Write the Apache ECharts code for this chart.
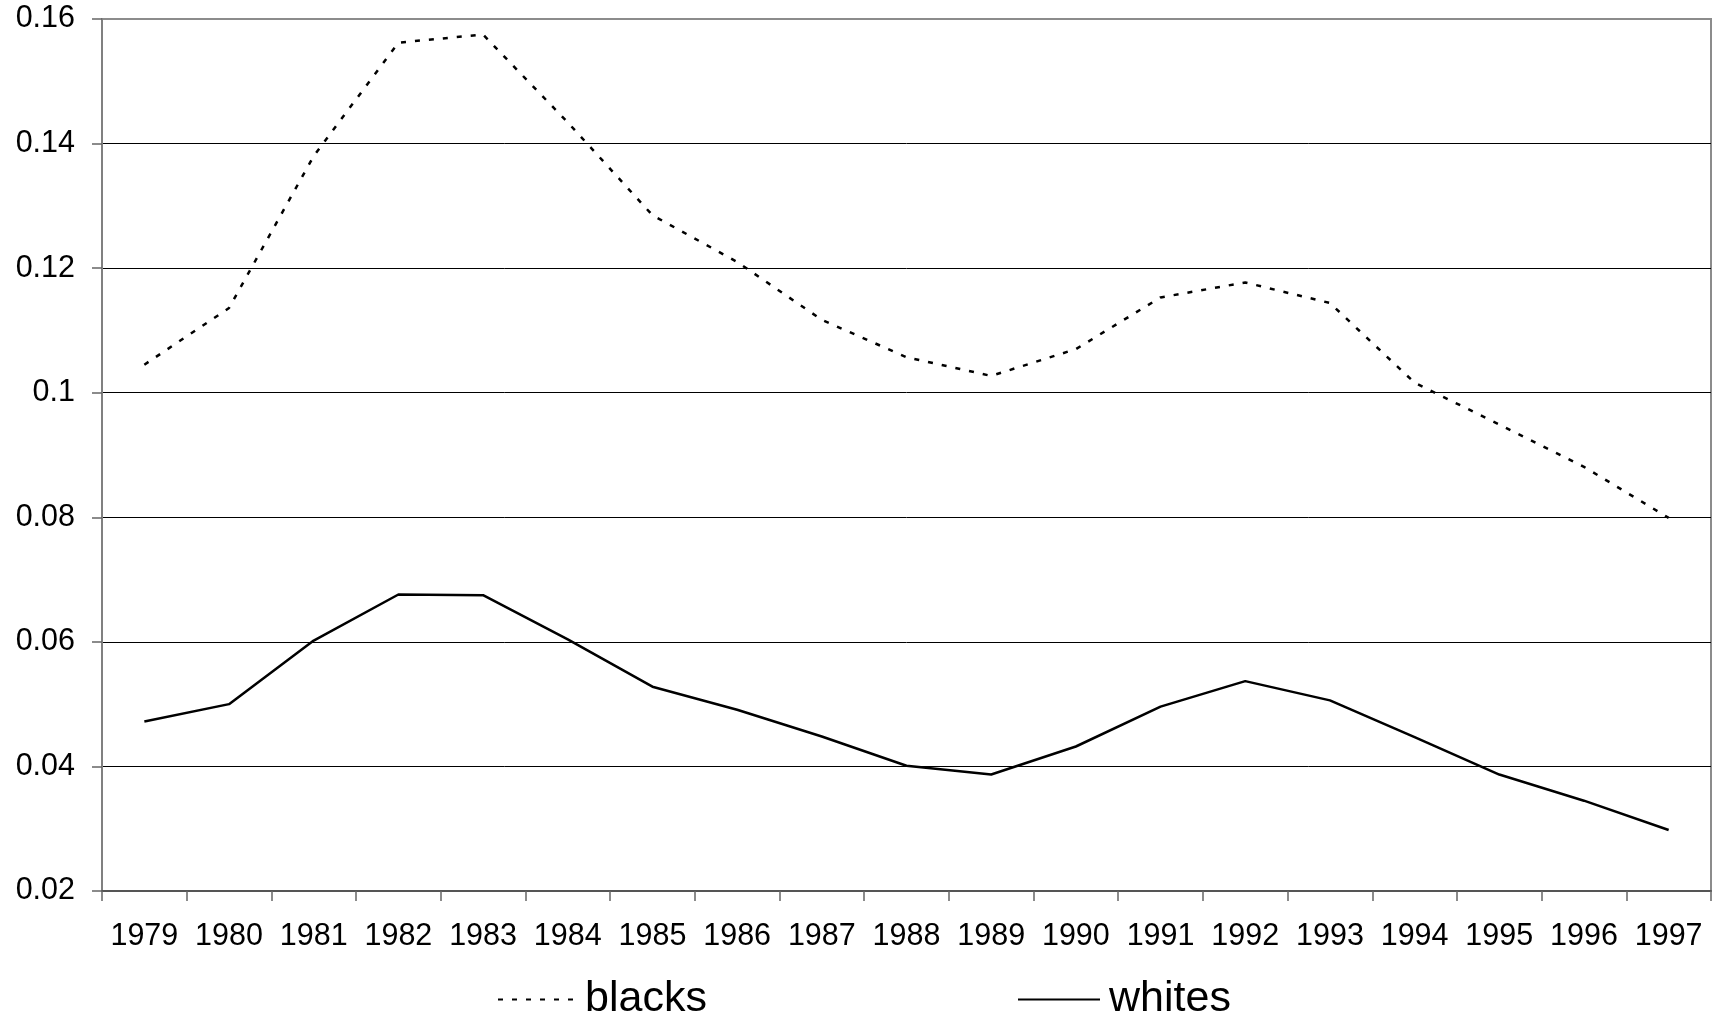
<!DOCTYPE html>
<html>
<head>
<meta charset="utf-8">
<script src="https://cdn.jsdelivr.net/npm/echarts@6/dist/echarts.min.js"></script>
<style>
html,body{margin:0;padding:0;background:#fff;}
#chart{width:1725px;height:1021px;}
</style>
</head>
<body>
<div id="chart"></div>
<script>
var years = ['1979','1980','1981','1982','1983','1984','1985','1986','1987','1988','1989','1990','1991','1992','1993','1994','1995','1996','1997'];
var blacks = [0.1045, 0.1136, 0.1380, 0.1562, 0.1575, 0.1434, 0.1285, 0.1210, 0.1117, 0.1057, 0.1027, 0.1070, 0.1153, 0.1177, 0.1144, 0.1016, 0.0949, 0.0881, 0.0799];
var whites = [0.0472, 0.0500, 0.0602, 0.0676, 0.0675, 0.0604, 0.0528, 0.0491, 0.0448, 0.0401, 0.0387, 0.0432, 0.0496, 0.0537, 0.0506, 0.0447, 0.0387, 0.0345, 0.0298];
var seriesNames = ['blacks', 'whites'];

var chart = echarts.init(document.getElementById('chart'), null, {renderer: 'canvas'});
var font = 'Liberation Sans, Arial, sans-serif';
var legendText = {fontFamily: font, fontSize: 43, color: '#000', padding: [0, 0, 0, 4]};
var legendItemStyle = {opacity: 0, color: 'transparent', borderWidth: 0};
chart.setOption({
  animation: false,
  backgroundColor: '#ffffff',
  grid: {left: 102, right: 14, top: 19, bottom: 130, show: true, borderColor: '#8c8c8c', borderWidth: 2, backgroundColor: 'transparent'},
  legend: [
    {data: [seriesNames[0]], left: 492, top: 973, itemWidth: 78, itemHeight: 14, textStyle: legendText, itemStyle: legendItemStyle, selectedMode: false},
    {data: [seriesNames[1]], left: 1012, top: 973, itemWidth: 82, itemHeight: 14, textStyle: legendText, itemStyle: legendItemStyle, selectedMode: false}
  ],
  xAxis: {
    type: 'category',
    data: years,
    boundaryGap: true,
    axisLine: {show: true, lineStyle: {color: '#555', width: 2}},
    axisTick: {show: true, interval: 0, length: 10, lineStyle: {color: '#666', width: 1.5}},
    axisLabel: {interval: 0, margin: 30, fontFamily: font, fontSize: 30.5, color: '#000'},
    splitLine: {show: false}
  },
  yAxis: {
    type: 'value',
    min: 0.02,
    max: 0.16,
    interval: 0.02,
    axisLine: {show: true, lineStyle: {color: '#808080', width: 2}},
    axisTick: {show: true, inside: false, length: 10, lineStyle: {color: '#666', width: 1.5}},
    axisLabel: {margin: 27, fontFamily: font, fontSize: 30.5, color: '#000',
      formatter: function (v) { return String(parseFloat(v.toFixed(4))); }},
    splitLine: {show: true, showMaxLine: false, showMinLine: false, lineStyle: {color: '#000', width: 1}}
  },
  series: [
    {name: seriesNames[0], type: 'line', data: blacks, symbol: 'none', smooth: false,
      lineStyle: {color: '#000', width: 2.5, type: [5, 9]}, itemStyle: {color: '#000'}},
    {name: seriesNames[1], type: 'line', data: whites, symbol: 'none', smooth: false,
      lineStyle: {color: '#000', width: 2.5, type: 'solid'}, itemStyle: {color: '#000'}}
  ]
});
</script>
</body>
</html>
